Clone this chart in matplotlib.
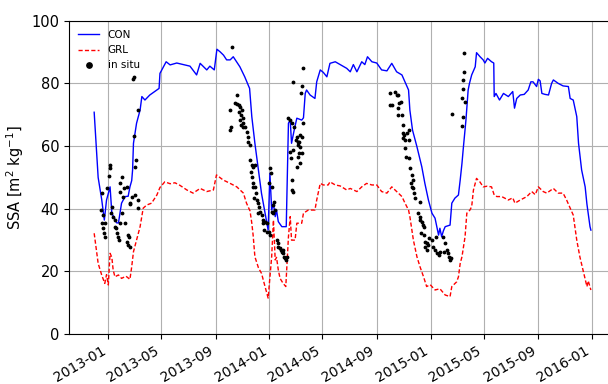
import numpy as np
import pandas as pd
import matplotlib
matplotlib.use("Agg")
import matplotlib.pyplot as plt
import matplotlib.dates as mdates

# ---- data (days since 2013-01-01, SSA values) ----
con_days = [-32, -23, -15, -9, -4, 4, 8, 19, 23, 30, 38, 45, 49, 53, 55, 57, 64, 72, 76, 83, 94, 110, 115, 117,
            131, 140, 155, 170, 185, 200, 208, 223, 230, 240, 246, 253, 261, 268, 276, 283, 298, 309, 320, 325,
            332, 340, 347, 355, 362, 366, 370, 374, 378, 381, 385, 393, 403, 408, 412, 415, 421, 427, 438, 442,
            446, 449, 457, 468, 472, 480, 487, 495, 502, 514, 525, 540, 548, 555, 563, 574, 581, 587, 597, 608,
            619, 631, 642, 653, 665, 672, 680, 683, 689, 699, 710, 717, 725, 733, 740, 748, 751, 755, 759, 763,
            774, 778, 785, 793, 797, 801, 804, 810, 815, 818, 823, 831, 834, 842, 849, 853, 859, 868, 873, 874,
            878, 886, 895, 906, 916, 920, 925, 933, 942, 951, 957, 962, 970, 974, 978, 982, 989, 997, 1004, 1008,
            1019, 1030, 1042, 1046, 1053, 1061, 1065, 1072, 1080, 1084, 1091, 1093]
con_vals = [70.8, 50.0, 43.0, 36.4, 42.8, 47.0, 38.6, 35.5, 35.5, 41.8, 43.9, 44.0, 47.0, 49.0, 52.4, 60.9, 67.3,
            71.5, 75.8, 74.7, 76.3, 77.9, 78.4, 83.2, 86.9, 85.9, 86.5, 86.0, 85.5, 82.7, 86.4, 84.3, 85.5, 84.3,
            90.9, 90.1, 89.0, 87.5, 87.5, 88.5, 85.3, 82.1, 78.4, 69.4, 60.9, 52.4, 44.9, 38.6, 33.2, 51.3, 39.6,
            41.8, 37.5, 39.6, 35.9, 34.3, 34.3, 67.3, 68.3, 60.9, 65.1, 68.9, 68.3, 69.0, 76.8, 77.9, 76.3, 75.2,
            80.5, 84.3, 83.5, 82.1, 86.4, 86.9, 86.0, 84.8, 83.7, 86.0, 83.7, 86.9, 86.0, 88.5, 86.9, 86.5, 84.3,
            84.0, 86.4, 83.7, 82.7, 80.5, 77.9, 71.5, 65.1, 59.8, 53.4, 48.1, 42.8, 38.6, 37.0, 31.6, 33.8, 31.1,
            33.0, 34.3, 34.8, 41.8, 43.4, 44.4, 49.2, 54.5, 59.3, 68.3, 77.9, 80.0, 82.7, 85.3, 89.8, 88.5, 87.5,
            86.5, 88.0, 86.9, 86.5, 75.8, 76.8, 74.7, 76.8, 75.8, 77.4, 72.1, 75.2, 76.3, 76.5, 77.9, 80.5, 80.5,
            79.0, 81.3, 80.8, 76.8, 76.5, 76.3, 80.0, 81.1, 80.0, 79.2, 79.0, 75.2, 74.7, 69.4, 60.9, 52.4, 47.0,
            41.5, 34.3, 33.2]

grl_days = [-32, -23, -15, -8, -4, 0, 4, 8, 11, 15, 23, 30, 40, 49, 53, 57, 64, 72, 79, 87, 98, 110, 117, 128,
            140, 151, 162, 178, 192, 208, 223, 238, 245, 260, 276, 291, 306, 313, 321, 325, 328, 332, 340, 347,
            355, 362, 366, 370, 374, 378, 381, 385, 389, 396, 402, 408, 412, 415, 423, 427, 438, 442, 453, 468,
            472, 480, 487, 498, 502, 514, 525, 540, 548, 563, 574, 585, 597, 608, 619, 631, 642, 653, 665, 672,
            680, 683, 691, 699, 706, 714, 721, 729, 740, 751, 763, 774, 778, 789, 793, 797, 801, 808, 812, 819,
            823, 827, 834, 842, 849, 858, 868, 874, 880, 891, 906, 916, 921, 933, 948, 959, 967, 974, 985, 993,
            1008, 1019, 1030, 1038, 1046, 1053, 1061, 1068, 1076, 1084, 1087, 1093]
grl_vals = [32.2, 22.6, 18.9, 16.2, 19.0, 15.7, 25.8, 24.5, 20.5, 18.3, 18.9, 17.8, 18.5, 17.5, 21.5, 26.3, 30.0,
            34.3, 40.2, 41.2, 41.8, 44.4, 46.8, 48.6, 48.0, 48.3, 47.5, 46.0, 45.0, 46.5, 45.5, 46.0, 50.8, 49.2,
            48.1, 47.0, 45.0, 41.8, 39.3, 35.4, 31.6, 24.7, 21.2, 19.4, 15.2, 11.5, 18.3, 24.7, 36.4, 23.7, 24.5,
            20.5, 17.8, 16.2, 15.2, 31.1, 37.5, 30.0, 30.0, 35.4, 35.4, 38.6, 39.6, 39.6, 42.8, 48.1, 47.6, 47.6,
            48.6, 47.6, 47.3, 46.0, 46.5, 45.5, 47.0, 48.1, 47.6, 47.6, 45.5, 45.0, 47.0, 45.5, 43.9, 41.8, 39.6,
            37.5, 30.0, 24.7, 21.5, 18.3, 15.2, 15.8, 14.1, 14.5, 12.5, 12.0, 15.2, 16.7, 18.3, 22.6, 24.7, 31.1,
            38.6, 39.6, 40.7, 46.0, 49.7, 48.5, 47.0, 47.2, 47.0, 44.4, 43.9, 43.9, 42.8, 43.5, 41.8, 42.8, 43.9,
            45.5, 44.5, 47.0, 45.5, 45.0, 46.5, 45.0, 45.0, 42.8, 40.2, 38.0, 30.0, 24.7, 20.0, 15.2, 17.0, 14.1]

obs_days = [55, 59, 68, 59, 62, 61, 4, 4, 2, -3, -15, 27, 27, 36, 42, 34, 49, 50, 68, 67, -17, -11, -8, -14, -11,
            -9, -8, 8, 6, 11, 15, 15, 17, 19, 23, 24, 30, 27, 38, 45, 48, 42, 45, 49, 53, 61, 32,
            280, 419, 291, 287, 291, 295, 298, 302, 297, 301, 304, 306, 304, 310, 298, 301, 276, 277, 276, 314,
            317, 317, 320, 321, 325, 328, 332, 323, 325, 328, 327, 332, 335, 331, 336, 340, 342, 338, 344, 347,
            351, 350, 355, 359, 353, 359, 366, 368, 365, 370, 372, 375, 378, 370, 374, 365, 366, 381, 385, 385,
            389, 391, 393, 396, 398, 400, 402, 404, 396, 408, 412, 415, 421, 425, 428, 433, 433, 414, 415, 430,
            418, 442, 438, 436, 442, 434, 438, 430, 434, 438, 430, 434, 427, 412, 415, 418,
            638, 637, 642, 649, 653, 657, 659, 662, 657, 657, 665, 667, 668, 670, 667, 672, 680, 680, 676, 672,
            674, 680, 683, 687, 689, 685, 687, 691, 693, 695, 706, 702, 705, 706, 710, 712, 714, 708, 714, 717,
            721, 717, 721, 725, 727, 733, 736, 740, 744, 748, 742, 759, 763, 767, 770, 772, 774, 776, 760, 751,
            806, 806, 804, 804, 800, 808, 779, 803, 802]
obs_vals = [81.3, 81.9, 71.5, 63.2, 55.6, 53.4, 54.0, 53.0, 50.5, 46.5, 45.0, 48.1, 45.5, 46.5, 47.0, 43.9, 41.8,
            41.5, 42.8, 40.2, 39.6, 38.0, 35.5, 35.5, 33.9, 32.3, 31.0, 40.7, 38.6, 37.5, 36.4, 34.3, 33.8, 32.2,
            31.1, 30.0, 38.6, 35.4, 35.4, 31.6, 31.1, 29.5, 28.5, 27.9, 43.9, 44.4, 50.2,
            91.7, 80.5, 76.3, 73.6, 73.4, 73.1, 72.6, 71.5, 71.0, 69.9, 68.9, 67.3, 66.2, 66.2, 68.3, 66.7, 71.5,
            66.2, 65.1, 64.6, 63.0, 61.4, 60.4, 55.6, 54.0, 53.4, 54.0, 51.8, 50.2, 48.1, 47.0, 47.0, 44.9, 43.3,
            42.8, 41.8, 40.7, 38.6, 39.1, 38.0, 36.4, 35.4, 35.9, 35.4, 33.2, 32.7, 52.9, 51.3, 48.1, 47.0, 41.2,
            42.3, 39.6, 39.1, 38.6, 32.7, 31.6, 30.0, 29.0, 27.9, 27.4, 26.9, 26.3, 25.8, 24.7, 24.2, 23.7, 24.7,
            26.9, 68.9, 68.3, 67.3, 66.2, 61.9, 63.0, 61.4, 57.7, 56.1, 46.0, 60.4, 58.8, 84.8, 79.2, 76.8, 67.3,
            63.5, 63.0, 61.4, 59.8, 57.7, 56.6, 54.5, 53.4, 58.2, 49.2, 45.5,
            76.8, 73.1, 73.1, 77.4, 76.3, 76.3, 73.6, 74.2, 72.1, 69.9, 69.9, 66.7, 64.1, 63.5, 62.5, 61.9, 65.1,
            61.9, 64.1, 59.3, 56.6, 56.1, 52.9, 50.8, 49.2, 48.1, 47.0, 46.5, 44.9, 43.3, 42.3, 38.6, 37.5, 36.4,
            35.9, 34.8, 34.3, 32.2, 31.6, 29.5, 29.0, 27.9, 26.9, 28.5, 30.6, 30.0, 27.9, 26.9, 25.8, 25.3, 31.1,
            31.1, 29.0, 26.9, 25.8, 24.7, 23.7, 24.2, 26.3, 26.3,
            89.8, 83.7, 81.1, 78.1, 75.2, 74.2, 70.1, 69.2, 66.5]

origin = pd.Timestamp("2013-01-01")
def to_dates(d):
    return origin + pd.to_timedelta(np.asarray(d, dtype=float), unit="D")

con_t = to_dates(con_days)
grl_t = to_dates(grl_days)
obs_t = to_dates(obs_days)

fig = plt.figure(figsize=(6.08, 3.84), dpi=100)
ax = fig.add_axes([0.1135, 0.1297, 0.8925, 0.8164])

ax.plot(con_t, con_vals, color="#0000ff", lw=1.0, label="CON")
ax.plot(grl_t, grl_vals, color="#ff0000", lw=1.0, ls="--", dashes=(3, 1.6), label="GRL")
ax.plot(obs_t, obs_vals, "k.", ms=3.5, label="in situ")

ax.set_xlim(origin - pd.Timedelta(days=89), origin + pd.Timedelta(days=1140))
ax.set_ylim(0, 100)
ax.set_yticks([0, 20, 40, 60, 80, 100])
ax.xaxis.set_major_locator(mdates.MonthLocator(bymonth=[1, 5, 9]))
ax.xaxis.set_major_formatter(mdates.DateFormatter("%Y-%m"))
ax.grid(True, color="#b0b0b0", lw=0.8)
ax.set_axisbelow(True)
ax.tick_params(axis="y", labelsize=10.5)
ax.tick_params(axis="x", labelsize=10)
for lab in ax.get_xticklabels():
    lab.set_rotation(30)
    lab.set_ha("right")
ax.set_ylabel("SSA [m$^2$ kg$^{-1}$]", fontsize=10.5)
ax.legend(loc="upper left", frameon=False, fontsize=7.5, markerscale=2.2)

fig.savefig("out.png", dpi=100)
